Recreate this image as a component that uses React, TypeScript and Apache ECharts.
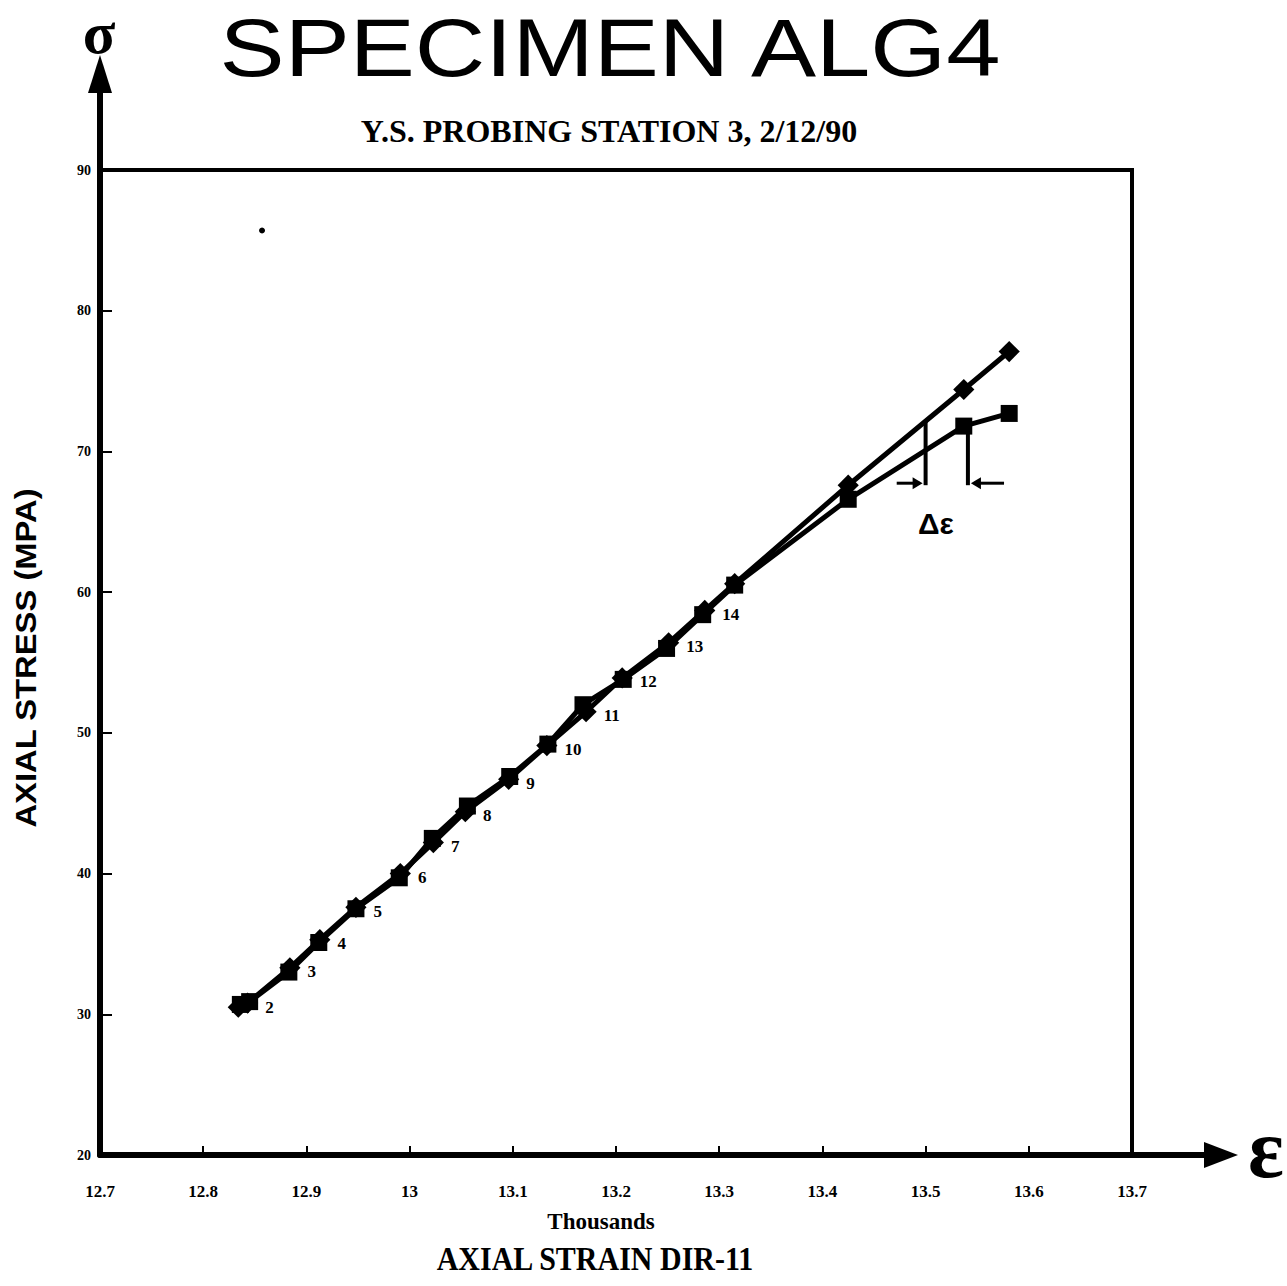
import React, { useEffect, useRef } from "react";
import * as echarts from "echarts";

// ---- data ----
const strainDiamond = [12.834, 12.843, 12.884, 12.913, 12.948, 12.991, 13.023, 13.054, 13.096, 13.133, 13.171, 13.206, 13.251, 13.286, 13.315, 13.425, 13.537, 13.581];
const stressDiamond = [30.5, 30.8, 33.3, 35.3, 37.6, 40.0, 42.2, 44.4, 46.7, 49.1, 51.5, 53.9, 56.4, 58.7, 60.6, 67.6, 74.4, 77.1];
const strainSquare = [12.836, 12.845, 12.883, 12.912, 12.948, 12.990, 13.022, 13.056, 13.097, 13.134, 13.168, 13.207, 13.249, 13.284, 13.315, 13.425, 13.537, 13.581];
const stressSquare = [30.7, 30.9, 33.0, 35.1, 37.5, 39.7, 42.5, 44.8, 46.9, 49.2, 52.0, 53.8, 56.0, 58.4, 60.5, 66.6, 71.8, 72.7];
const pointLabels = ["", "2", "3", "4", "5", "6", "7", "8", "9", "10", "11", "12", "13", "14", "", "", "", ""];

const xMin = 12.7;
const xMax = 13.7;
const xStep = 0.1;
const yMin = 20;
const yMax = 90;
const yStep = 10;

// delta-epsilon annotation (data coordinates)
const deltaLeftX = 13.5;
const deltaLeftTop = 72.1;
const deltaRightX = 13.541;
const deltaRightTop = 71.8;
const deltaBase = 67.6;
const deltaArrowLeftFrom = 13.472;
const deltaArrowRightFrom = 13.576;
const deltaTextPos = [13.51, 64.9];
const strayDot = [12.857, 85.7];

const titleText = "SPECIMEN ALG4";
const subtitleText = "Y.S. PROBING STATION 3, 2/12/90";
const xName = "AXIAL STRAIN DIR-11";
const xUnit = "Thousands";
const yName = "AXIAL STRESS (MPA)";

export default function App() {
  const ref = useRef<HTMLDivElement>(null);
  useEffect(() => {
    const chart = echarts.init(ref.current!, null, { renderer: "svg" });
    const L = 100, T = 170, R = 1132, B = 1155;
    const serif = "'Liberation Serif', 'Times New Roman', serif";
    const sans = "'Liberation Sans', Arial, sans-serif";
    chart.setOption({
      animation: false,
      backgroundColor: "#ffffff",
      grid: { left: L, top: T, width: R - L, height: B - T, show: true, borderColor: "#000", borderWidth: 4 },
      xAxis: {
        type: "value", min: xMin, max: xMax, interval: xStep,
        axisLine: { show: true, lineStyle: { color: "#000", width: 6 } },
        axisTick: { show: true, inside: true, length: 9, lineStyle: { color: "#000", width: 2 } },
        splitLine: { show: false },
        axisLabel: {
          margin: 28, color: "#000", fontSize: 17, fontWeight: "bold", fontFamily: serif,
          formatter: (v: number) => String(Math.round(v * 10) / 10),
        },
      },
      yAxis: {
        type: "value", min: yMin, max: yMax, interval: yStep,
        axisLine: { show: true, lineStyle: { color: "#000", width: 6 } },
        axisTick: { show: true, inside: true, length: 12, lineStyle: { color: "#000", width: 2 } },
        splitLine: { show: false },
        axisLabel: { margin: 9, color: "#000", fontSize: 14, fontWeight: "bold", fontFamily: serif },
      },
      series: [
        {
          type: "line",
          data: strainDiamond.map((x, i) => [x, stressDiamond[i]]),
          symbol: "rect", symbolRotate: 45, symbolSize: 15,
          lineStyle: { color: "#000", width: 5 },
          itemStyle: { color: "#000" },
          label: {
            show: true, position: "right", distance: 7, offset: [0, 4],
            color: "#000", fontSize: 17, fontWeight: "bold", fontFamily: serif,
            formatter: (p: any) => pointLabels[p.dataIndex] || "",
          },
          z: 3,
        },
        {
          type: "line",
          data: strainSquare.map((x, i) => [x, stressSquare[i]]),
          symbol: "rect", symbolSize: 17,
          lineStyle: { color: "#000", width: 5 },
          itemStyle: { color: "#000" },
          z: 4,
        },
      ],
    });

    const px = (x: number, y: number) => chart.convertToPixel({ gridIndex: 0 }, [x, y]) as number[];
    const a1 = px(deltaLeftX, deltaLeftTop);
    const a2 = px(deltaLeftX, deltaBase);
    const b1 = px(deltaRightX, deltaRightTop);
    const b2 = px(deltaRightX, deltaBase);
    const la = px(deltaArrowLeftFrom, deltaBase);
    const ra = px(deltaArrowRightFrom, deltaBase);
    const dt = px(deltaTextPos[0], deltaTextPos[1]);
    const sd = px(strayDot[0], strayDot[1]);
    const ay = a2[1] - 2;
    const ln = (x1: number, y1: number, x2: number, y2: number, w: number) => ({
      type: "line", shape: { x1, y1, x2, y2 }, style: { stroke: "#000", lineWidth: w }, silent: true,
    });

    chart.setOption({
      graphic: [
        // title & subtitle
        { type: "text", x: 610, y: 47, scaleX: 1.19, style: { text: titleText, fill: "#000", font: `normal 82px ${sans}`, textAlign: "center", textVerticalAlign: "middle" } },
        { type: "text", x: 609, y: 131, style: { text: subtitleText, fill: "#000", font: `bold 32px ${serif}`, textAlign: "center", textVerticalAlign: "middle" } },
        // axis names
        { type: "text", x: 601, y: 1221, style: { text: xUnit, fill: "#000", font: `bold 23px ${serif}`, textAlign: "center", textVerticalAlign: "middle" } },
        { type: "text", x: 595, y: 1258, scaleY: 1.15, style: { text: xName, fill: "#000", font: `bold 30px ${serif}`, textAlign: "center", textVerticalAlign: "middle" } },
        { type: "text", x: 26, y: 658, rotation: Math.PI / 2, scaleX: 1.13, style: { text: yName, fill: "#000", font: `bold 29px ${sans}`, textAlign: "center", textVerticalAlign: "middle" } },
        // axis extensions with arrows
        ln(L, T, L, 82, 6),
        { type: "polygon", shape: { points: [[L, 55], [L - 12, 93], [L + 12, 93]] }, style: { fill: "#000" } },
        ln(R, B, 1210, B, 6),
        { type: "polygon", shape: { points: [[1238, B], [1204, B - 13], [1204, B + 13]] }, style: { fill: "#000" } },
        { type: "text", x: 99, y: 33, style: { text: "σ", fill: "#000", font: `bold 60px ${serif}`, textAlign: "center", textVerticalAlign: "middle" } },
        { type: "text", x: 1266, y: 1148, style: { text: "ε", fill: "#000", font: `bold 84px ${serif}`, textAlign: "center", textVerticalAlign: "middle" } },
        // delta epsilon annotation
        ln(a1[0], a1[1], a2[0], a2[1], 4),
        ln(b1[0], b1[1], b2[0], b2[1], 4),
        ln(la[0], ay, a2[0] - 6, ay, 3),
        { type: "polygon", shape: { points: [[a2[0] - 3, ay], [a2[0] - 13, ay - 6], [a2[0] - 13, ay + 6]] }, style: { fill: "#000" } },
        ln(ra[0], ay, b2[0] + 6, ay, 3),
        { type: "polygon", shape: { points: [[b2[0] + 3, ay], [b2[0] + 13, ay - 6], [b2[0] + 13, ay + 6]] }, style: { fill: "#000" } },
        { type: "text", x: dt[0], y: dt[1], style: { text: "Δε", fill: "#000", font: `bold 30px ${sans}`, textAlign: "center", textVerticalAlign: "middle" } },
        { type: "circle", shape: { cx: sd[0], cy: sd[1], r: 3 }, style: { fill: "#000" } },
      ],
    });
    return () => chart.dispose();
  }, []);
  return <div ref={ref} style={{ position: "absolute", left: 0, top: 0, width: 1287, height: 1286 }} />;
}
